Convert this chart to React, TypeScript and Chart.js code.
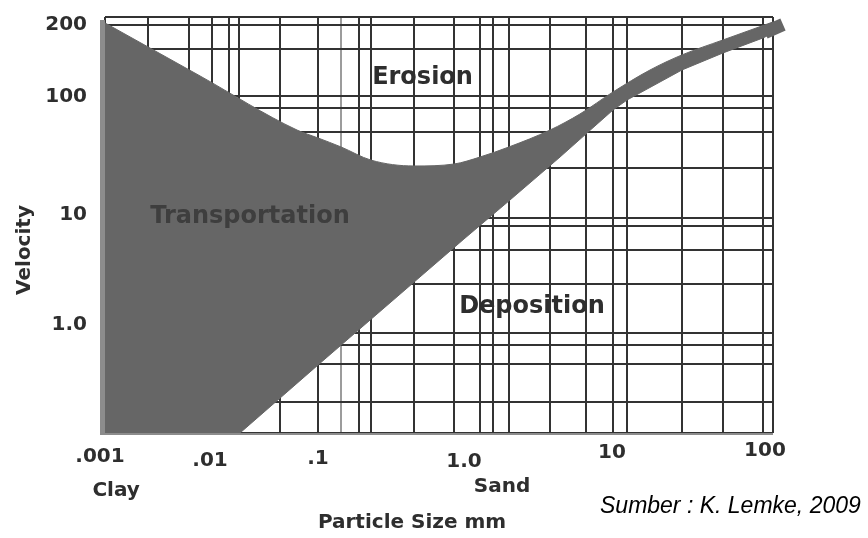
import React, { useEffect, useRef } from 'react';
import { Chart, registerables, LogarithmicScale } from 'chart.js';

// ---------------- data ----------------
// Erosion threshold curve (upper edge of the transportation band)
const erosionSizeMm = [0.001, 0.00773, 0.0634, 0.1, 0.144, 0.231, 0.455, 0.855, 1.28, 2.0, 3.78, 6.0, 10, 17.65, 28.8, 54.1, 116.6];
const erosionVelocity = [204, 121.6, 52.6, 45.3, 38.2, 29.8, 26.7, 27.7, 31.6, 38.2, 52.6, 71.2, 104, 128.9, 149.3, 172.8, 206];

// Deposition threshold curve (lower edge of the transportation band)
const depositionSizeMm = [0.001, 0.01836, 0.1, 1, 2.036, 4.41, 6.69, 10, 12.4, 28.8, 54.1, 100, 116.6];
const depositionVelocity = [0.135, 0.135, 0.527, 6.57, 14.05, 31.6, 49.7, 76.8, 92.7, 128.9, 152.2, 176.2, 185];

// End of the band (drawn past the frame)
const bandEndSizeMm = [103.1, 135.9];
const bandEndVelocity = [185.9, 201];

// Axis labels
const xTickValues = [0.001, 0.01, 0.1, 1, 10, 100];
const xTickLabels = ['.001', '.01', '.1', '1.0', '10', '100'];
const yTickValues = [200, 100, 10, 1];
const yTickLabels = ['200', '100', '10', '1.0'];

// Grid line values (irregular grid of the original diagram)
const xGridValues = [0.001, 0.00252, 0.0061, 0.01, 0.01445, 0.018, 0.0438, 0.1, 0.1439, 0.191, 0.2307, 0.455, 0.855, 1.28, 1.566, 2.0, 3.78, 6.59, 10, 12.4, 28.8, 54.1, 100, 116.6];
const yGridValues = [0.135, 0.251, 0.538, 0.787, 1, 2.67, 5.27, 8.52, 10, 25.7, 50.7, 79.7, 100, 158.3, 200, 216.3];
const lightGridValue = 0.1439;

// Region labels [text, size mm, velocity]
const regionLabels: [string, number, number][] = [
  ['Erosion', 0.52, 120],
  ['Transportation', 0.0228, 10.2],
  ['Deposition', 2.86, 1.68],
];

// ---------------- axis layout (non-uniform log axes of the original) ----------------
const AXIS_ANCHORS: Record<string, [number, number][]> = {
  x: [[0.001, 0], [0.01, 0.1602], [0.1, 0.3189], [1, 0.5374], [10, 0.7605], [100, 0.985], [116.6, 1]],
  y: [[0.135, 0], [1, 0.2404], [10, 0.5168], [100, 0.8101], [200, 0.9808], [216.3, 1]],
};
const AXIS_GRID: Record<string, number[]> = { x: xGridValues, y: yGridValues };

function valueToFraction(anchors: [number, number][], value: number) {
  for (const [v, f] of anchors) if (v === value) return f;
  const L = Math.log10(value);
  let i = 0;
  while (i < anchors.length - 2 && L > Math.log10(anchors[i + 1][0])) i++;
  const [v0, f0] = anchors[i];
  const [v1, f1] = anchors[i + 1];
  const l0 = Math.log10(v0), l1 = Math.log10(v1);
  return f0 + ((L - l0) * (f1 - f0)) / (l1 - l0);
}
function fractionToValue(anchors: [number, number][], f: number) {
  let i = 0;
  while (i < anchors.length - 2 && f > anchors[i + 1][1]) i++;
  const [v0, f0] = anchors[i];
  const [v1, f1] = anchors[i + 1];
  const l0 = Math.log10(v0), l1 = Math.log10(v1);
  return Math.pow(10, l0 + ((f - f0) * (l1 - l0)) / (f1 - f0));
}

class PiecewiseLogScale extends (LogarithmicScale as any) {
  static id = 'piecewiseLog';
  static defaults = {};
  buildTicks() {
    return AXIS_GRID[(this as any).id].map((v) => ({ value: v }));
  }
  getPixelForValue(value: number) {
    if (value === null || value === undefined || isNaN(value) || value <= 0) return NaN;
    return (this as any).getPixelForDecimal(valueToFraction(AXIS_ANCHORS[(this as any).id], value));
  }
  getValueForPixel(pixel: number) {
    return fractionToValue(AXIS_ANCHORS[(this as any).id], (this as any).getDecimalForPixel(pixel));
  }
}

Chart.register(...registerables, PiecewiseLogScale as any);

const FILL = '#666666';
const GRID = '#333333';
const TEXT = '#2e2e2e';
const BOLD = '"DejaVu Sans", Verdana, sans-serif';

// small per-label nudges of the staggered hand-lettered axis labels
const xLabelNudge = [[-5, 0], [-2, 4], [0, 2], [0, 5], [-1, -4], [2, -6]];
const yLabelNudge = [0, 1, -3, -8];

const textPlugin = {
  id: 'diagramText',
  afterDatasetsDraw(chart: any) {
    const { ctx, chartArea: a } = chart;
    const xs = chart.scales.x;
    const ys = chart.scales.y;
    ctx.save();
    // grey axis bars
    ctx.fillStyle = '#8c8c8c';
    ctx.fillRect(a.left - 5, a.top + 3, 5, a.bottom - a.top - 1);
    ctx.fillRect(a.left - 5, a.bottom, a.right - a.left + 5, 2);

    // region labels
    ctx.textAlign = 'center';
    ctx.textBaseline = 'middle';
    regionLabels.forEach(([t, x, y]) => {
      ctx.font = `bold 24px ${BOLD}`;
      ctx.fillStyle = t === 'Transportation' ? '#3e3e3e' : TEXT;
      ctx.fillText(t, xs.getPixelForValue(x), ys.getPixelForValue(y));
    });

    // x tick labels
    ctx.fillStyle = TEXT;
    ctx.font = `bold 20px ${BOLD}`;
    xTickValues.forEach((v, i) => {
      ctx.fillText(xTickLabels[i], xs.getPixelForValue(v) + xLabelNudge[i][0], a.bottom + 24 + xLabelNudge[i][1]);
    });
    // size classes
    ctx.fillText('Clay', xs.getPixelForValue(0.00127), a.bottom + 58);
    ctx.fillText('Sand', xs.getPixelForValue(1.8), a.bottom + 54);
    // x axis title
    ctx.fillText('Particle Size mm', (a.left + a.right) / 2 - 27, a.bottom + 90);

    // y tick labels
    ctx.textAlign = 'right';
    yTickValues.forEach((v, i) => {
      ctx.fillText(yTickLabels[i], a.left - 18, ys.getPixelForValue(v) + yLabelNudge[i]);
    });
    // y title
    ctx.save();
    ctx.translate(25, (a.top + a.bottom) / 2 + 25);
    ctx.rotate(-Math.PI / 2);
    ctx.textAlign = 'center';
    ctx.fillText('Velocity', 0, 0);
    ctx.restore();

    // source
    ctx.textAlign = 'left';
    ctx.fillStyle = '#000000';
    ctx.font = `italic 23px "Liberation Sans", Arial, sans-serif`;
    ctx.fillText('Sumber : K. Lemke, 2009', 600, a.bottom + 74);
    ctx.restore();
  },
};

export default function App() {
  const ref = useRef<HTMLCanvasElement>(null);
  useEffect(() => {
    if (!ref.current) return;
    const chart = new Chart(ref.current, {
      type: 'line',
      data: {
        datasets: [
          {
            label: 'Deposition',
            data: depositionSizeMm.map((x, i) => ({ x, y: depositionVelocity[i] })),
            borderColor: FILL,
            borderWidth: 1,
            pointRadius: 0,
            tension: 0,
            fill: false,
          },
          {
            label: 'Erosion',
            data: erosionSizeMm.map((x, i) => ({ x, y: erosionVelocity[i] })),
            borderColor: FILL,
            backgroundColor: FILL,
            borderWidth: 1,
            pointRadius: 0,
            cubicInterpolationMode: 'monotone',
            fill: '-1',
          },
          {
            label: 'Band end',
            data: bandEndSizeMm.map((x, i) => ({ x, y: bandEndVelocity[i] })),
            borderColor: FILL,
            borderWidth: 13,
            borderCapStyle: 'butt',
            pointRadius: 0,
            fill: false,
            clip: false,
          } as any,
        ],
      },
      options: {
        responsive: false,
        devicePixelRatio: 1,
        animation: false,
        events: [],
        layout: { padding: { left: 105, right: 95, top: 17, bottom: 105 } },
        plugins: { legend: { display: false }, tooltip: { enabled: false } },
        scales: {
          x: {
            type: 'piecewiseLog' as any,
            position: 'bottom',
            min: 0.001,
            max: 116.6,
            z: 1,
            ticks: { display: false },
            border: { display: false },
            grid: {
              drawTicks: false,
              lineWidth: 2,
              color: (c: any) => (c.tick && c.tick.value === lightGridValue ? '#9c9c9c' : GRID),
            },
          },
          y: {
            type: 'piecewiseLog' as any,
            position: 'left',
            min: 0.135,
            max: 216.3,
            z: 1,
            ticks: { display: false },
            border: { display: false },
            grid: { drawTicks: false, lineWidth: 2, color: GRID },
          },
        } as any,
      },
      plugins: [textPlugin],
    });
    return () => chart.destroy();
  }, []);
  return (
    <div style={{ position: 'fixed', left: 0, top: 0, width: 868, height: 538, background: '#ffffff' }}>
      <canvas ref={ref} width={868} height={538} style={{ display: 'block', width: 868, height: 538 }} />
    </div>
  );
}
